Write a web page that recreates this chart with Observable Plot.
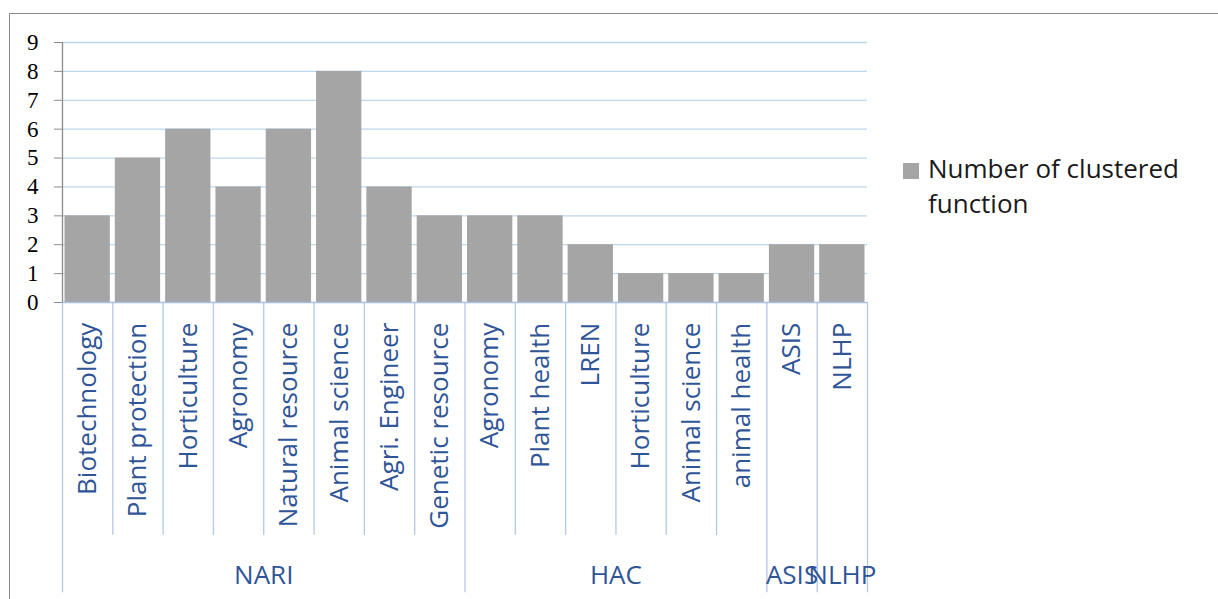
<!DOCTYPE html>
<html>
<head>
<meta charset="utf-8">
<script src="https://cdn.jsdelivr.net/npm/d3@7"></script>
<script src="https://cdn.jsdelivr.net/npm/@observablehq/plot@0.6"></script>
<style>
  html, body { margin: 0; padding: 0; background: #fff; }
  #wrap { position: relative; width: 1218px; height: 599px; overflow: hidden; }
  #frame { position: absolute; left: 9px; top: 13px; width: 1300px; height: 700px; border: 1.5px solid #8c8c8c; box-sizing: border-box; }
  #chart { position: absolute; left: 0; top: 0; }
  #legend { position: absolute; left: 903px; top: 151px; font-family: "Open Sans", sans-serif; font-size: 26px; color: #1a1a1a; line-height: 35px; }
  #legend .sw { position: absolute; left: 0; top: 12px; width: 16px; height: 16px; background: #a5a5a5; }
  #legend .tx { position: absolute; left: 25px; top: 0; white-space: nowrap; }
</style>
</head>
<body>
<div id="wrap">
  <div id="frame"></div>
  <div id="chart"></div>
  <div id="legend"><div class="sw"></div><div class="tx">Number of clustered<br>function</div></div>
</div>
<script>
const categories = ["Biotechnology", "Plant protection", "Horticulture", "Agronomy", "Natural resource", "Animal science", "Agri. Engineer", "Genetic resource",
                    "Agronomy", "Plant health", "LREN", "Horticulture", "Animal science", "animal health",
                    "ASIS", "NLHP"];
const values = [3, 5, 6, 4, 6, 8, 4, 3, 3, 3, 2, 1, 1, 1, 2, 2];
const groupNames = ["NARI", "HAC", "ASIS", "NLHP"];
const groupSizes = [8, 6, 1, 1];
const yTicks = [0, 1, 2, 3, 4, 5, 6, 7, 8, 9];

const data = categories.map((name, i) => ({i, name, value: values[i]}));
const bounds = [0];
groupSizes.forEach(s => bounds.push(bounds[bounds.length - 1] + s));
const groups = groupNames.map((g, k) => ({name: g, mid: (bounds[k] + bounds[k + 1]) / 2}));
const separators = d3.range(0, categories.length + 1).map(b => ({b, long: bounds.includes(b)}));

const textColor = "#2f5597";
const chart = Plot.plot({
  width: 1218,
  height: 599,
  marginLeft: 62,
  marginRight: 351,
  marginTop: 42,
  marginBottom: 297,
  x: {type: "linear", domain: [0, categories.length], axis: null},
  y: {domain: [0, 9], axis: null},
  style: {background: "transparent"},
  marks: [
    Plot.ruleY(yTicks.slice(1), {stroke: "#bdd7ee", strokeWidth: 1.3}),
    Plot.rectY(data, {x1: d => d.i, x2: d => d.i + 1, y: "value", fill: "#a5a5a5", insetLeft: 2.5, insetRight: 2.5}),
    Plot.ruleX(separators, {x: "b", y1: 0, y2: d => d.long ? -10.05 : -8.06, stroke: "#b4c7e7", strokeWidth: 1.3}),
    Plot.ruleY([0], {stroke: "#a9bfe3", strokeWidth: 1.3}),
    Plot.ruleX([0], {y1: 0, y2: 9, stroke: "#8c8c8c", strokeWidth: 1.3}),
    Plot.axisY({ticks: yTicks, label: null, tickSize: 8, tickPadding: 16, stroke: "#8c8c8c", fill: "#000", fontSize: 23, fontFamily: "Liberation Serif, Times New Roman, serif", tickFormat: d => String(d)}),
    Plot.text(data, {x: d => d.i + 0.5, y: -0.7, text: "name", rotate: -90, textAnchor: "end", lineAnchor: "middle", fill: textColor, fontSize: 26, fontFamily: "Open Sans"}),
    Plot.text(groups, {x: "mid", y: -9.45, text: "name", textAnchor: "middle", lineAnchor: "middle", fill: textColor, fontSize: 26, fontFamily: "Open Sans"})
  ]
});
document.getElementById("chart").appendChild(chart);
</script>
</body>
</html>
